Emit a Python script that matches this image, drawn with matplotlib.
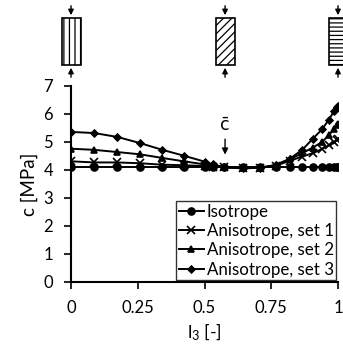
import matplotlib
matplotlib.use('Agg')
import matplotlib.pyplot as plt
from matplotlib.patches import Rectangle

plt.rcParams['font.family'] = ['Lato', 'DejaVu Sans']
plt.rcParams['mathtext.fontset'] = 'custom'
plt.rcParams['mathtext.rm'] = 'Lato'
plt.rcParams['mathtext.it'] = 'Lato'
plt.rcParams['hatch.linewidth'] = 0.9

# data
l3 = [0, 0.087, 0.174, 0.259, 0.342, 0.423, 0.5, 0.53, 0.574, 0.643,
      0.707, 0.766, 0.819, 0.866, 0.906, 0.94, 0.966, 0.985, 0.996, 1.0]
iso = [4.1] * len(l3)
set1 = [4.31, 4.27, 4.27, 4.24, 4.19, 4.17, 4.14, 4.12, 4.1, 4.06,
        4.08, 4.15, 4.33, 4.48, 4.6, 4.75, 4.88, 5.0, 5.08, 5.12]
set2 = [4.76, 4.72, 4.64, 4.56, 4.43, 4.31, 4.2, 4.15, 4.1, 4.06,
        4.08, 4.17, 4.38, 4.6, 4.8, 5.0, 5.25, 5.45, 5.6, 5.65]
set3 = [5.36, 5.32, 5.18, 4.96, 4.72, 4.51, 4.3, 4.2, 4.1, 4.06,
        4.08, 4.18, 4.4, 4.72, 5.12, 5.45, 5.8, 6.1, 6.25, 6.3]
labels = ['Isotrope', 'Anisotrope, set 1', 'Anisotrope, set 2', 'Anisotrope, set 3']
markers = ['o', 'x', '^', 'D']
msizes = [5, 5.5, 5, 3.5]
xticks = [0, 0.25, 0.5, 0.75, 1]
xticklabels = ['0', '0.25', '0.5', '0.75', '1']
c_bar = 0.577

fig = plt.figure(figsize=(3.43, 3.48), dpi=100)
L, R = 71 / 343, 338 / 343
ax = fig.add_axes([L, 1 - 282 / 348, R - L, (282 - 86) / 348])

for y, lab, m, ms in zip([iso, set1, set2, set3], labels, markers, msizes):
    ax.plot(l3, y, color='black', lw=1.4, marker=m, ms=ms, mew=1.2, label=lab)

ax.set_xlim(0, 1)
ax.set_ylim(0, 7)
ax.set_xticks(xticks)
ax.set_xticklabels(xticklabels)
ax.set_yticks(range(8))
ax.spines['top'].set_visible(False)
ax.spines['right'].set_visible(False)
ax.spines['left'].set_linewidth(1.5)
ax.spines['bottom'].set_linewidth(1.5)
ax.tick_params(direction='out', length=5, width=1.2, labelsize=12, pad=8)
ax.set_xlabel('l$_3$ [-]', fontsize=13, labelpad=4)
ax.set_ylabel('c [MPa]', fontsize=13.5, labelpad=4)

ax.annotate('c\u0304', xy=(c_bar, 4.45), xytext=(c_bar, 5.3), ha='center', va='bottom',
            fontsize=12.5, family='DejaVu Sans',
            arrowprops=dict(arrowstyle='-|>', color='black', lw=1, mutation_scale=9))

leg = ax.legend(loc='lower right', fontsize=12.2, frameon=True, fancybox=False,
                edgecolor='black', handlelength=1.5, handletextpad=0.15,
                borderpad=0.15, labelspacing=0.2, borderaxespad=0.1)
leg.get_frame().set_linewidth(1.0)

# loading sketches above the plot
top = fig.add_axes([L, 1 - 85 / 348, R - L, 85 / 348])
top.set_xlim(0, 1)
top.set_ylim(85, 0)
top.axis('off')
w = 19 / 267
for xc, h in zip([0, c_bar, 1], ['|||', '////', '----']):
    top.add_patch(Rectangle((xc - w / 2, 18), w, 47, fill=False, hatch=h,
                            edgecolor='black', lw=1.2, clip_on=False))
    top.annotate('', xy=(xc, 18), xytext=(xc, 3),
                 arrowprops=dict(arrowstyle='-|>', color='black', lw=1, mutation_scale=8),
                 annotation_clip=False)
    top.annotate('', xy=(xc, 65), xytext=(xc, 80),
                 arrowprops=dict(arrowstyle='-|>', color='black', lw=1, mutation_scale=8),
                 annotation_clip=False)

fig.savefig('out.png', dpi=100)
